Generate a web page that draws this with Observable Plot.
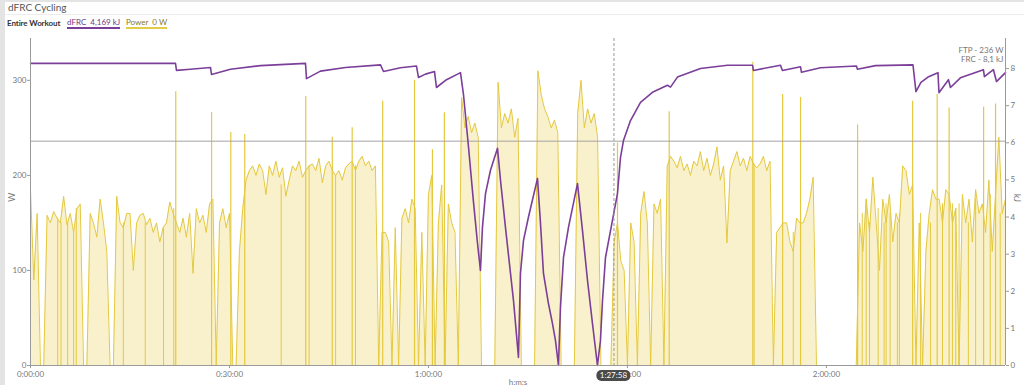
<!DOCTYPE html>
<html><head><meta charset="utf-8">
<script src="https://cdn.jsdelivr.net/npm/d3@7"></script>
<script src="https://cdn.jsdelivr.net/npm/@observablehq/plot@0.6"></script>
<style>
html,body{margin:0;padding:0;background:#fff;width:1024px;height:385px;overflow:hidden;font-family:Lato,sans-serif;}
#wrap{position:relative;width:1024px;height:385px;}
#lstrip{position:absolute;left:0;top:0;width:5px;height:385px;background:#e4e4e4;z-index:3;}
#tstrip{position:absolute;left:0;top:0;width:1024px;height:2px;background:#e4e4e4;z-index:3;}
#title{position:absolute;left:8px;top:1px;font-size:10px;color:#555;line-height:13px;}
#sep{position:absolute;left:5px;top:14px;width:1019px;height:1px;background:#ececec;}
#legend{position:absolute;left:7px;top:18px;font-size:8px;line-height:11px;height:11px;white-space:nowrap;}
#legend span{position:absolute;top:0;}
#lg0{left:0;font-weight:bold;color:#333;letter-spacing:-0.1px;}
#lg1{left:60px;color:#6d3a86;border-bottom:2px solid #7b3f99;line-height:9px;}
#lg2{left:119px;color:#8c7a22;border-bottom:2px solid #e2cb45;line-height:9px;}
#chart{position:absolute;left:0;top:30px;}
#cursor{position:absolute;height:11px;line-height:11px;font-size:8px;color:#fff;background:#4a4a4a;border-radius:5px;padding:0 3px;transform:translateX(-50%);z-index:2;}
</style></head>
<body><div id="wrap">
<div id="lstrip"></div><div id="tstrip"></div>
<div id="title">dFRC Cycling</div>
<div id="sep"></div>
<div id="legend"><span id="lg0">Entire Workout</span><span id="lg1">dFRC&nbsp; 4,169 kJ</span><span id="lg2">Power&nbsp; 0 W</span></div>
<div id="chart"></div>
<div id="cursor">1:27:58</div>
</div>
<script>
// Power level samples (W), one every 0.5 minute from 0:00:00
const powerStepMin = 0.5;
const powerW = [
185,90,160,0,0,158,150,162,155,150,
178,148,160,140,165,170,0,0,160,150,
135,175,150,120,0,0,178,150,145,160,
160,100,150,158,160,148,155,140,150,130,
145,150,172,160,150,140,155,135,160,97,
165,150,158,140,170,175,0,150,165,145,
160,0,0,120,165,195,205,210,200,212,
205,180,210,200,215,198,208,178,195,210,
205,215,198,205,210,212,205,218,192,210,
215,205,200,205,195,208,212,215,205,215,
220,210,215,205,210,0,140,140,130,0,
145,0,155,165,150,175,165,0,140,0,
180,200,0,150,190,0,170,150,140,0,
282,250,262,245,255,240,0,0,0,0,
0,298,250,265,255,270,240,260,0,0,
0,0,0,310,285,270,262,250,258,245,
0,0,0,0,0,265,300,250,270,255,
265,240,0,0,0,0,130,150,110,100,
0,150,130,0,160,183,150,0,170,160,
175,0,210,220,215,208,220,205,212,200,
215,210,225,205,218,200,212,230,195,210,
129,205,215,225,210,218,205,220,212,208,
212,220,205,215,0,140,145,150,150,130,
120,155,150,150,160,175,198,0,0,0,
0,0,0,0,0,0,0,0,0,0,
150,120,175,140,198,150,100,175,150,180,
130,160,150,210,205,180,190,0,150,0,
120,160,185,175,175,150,185,180,150,165,
0,180,150,175,130,185,160,170,140,195,
120,180,240,160,175
];
// Momentary drops to 0 W: time (min) and the level they drop from (W)
const dropTimeMin = [4.1,4.6,5.6,6.5,6.9,14.0,17.3,20.05,21.6,37.8,42.0,46.0,49.0,109.1,115.0,125.4,126.0,126.5,127.8,128.7,129.0,129.6,130.7,131.0,134.2,135.7,137.5,139.0,139.5,140.0,141.4,142.5,144.7,146.2];
const dropFromW = [155,150,150,140,165,150,150,145,165,190,210,200,210,212,140,160,175,150,165,150,170,160,150,160,160,150,170,170,165,170,150,175,180,160];
// Momentary spikes: time (min) and peak (W)
const spikeTimeMin = [21.9,27.3,30.2,32.3,41.5,45.5,48.5,53.1,57.9,60.6,62.4,88.5,96.3,108.9,113.4,116.1,124.7,133.0,136.7,138.5,143.7,145.5];
const spikeW = [288,266,245,243,283,240,250,278,300,227,266,234,267,319,285,282,253,278,285,271,272,275];
// dFRC (kJ) at given times (minutes)
const frcTimeMin = [0,21.86,22.01,24.12,27.14,27.29,30.15,34.68,41.46,41.61,43.72,47.49,52.77,53.22,55.78,58.19,58.49,59.55,60.91,61.21,62.72,64.83,65.28,66.03,66.79,67.39,67.84,68.14,68.6,69.35,70.41,70.86,71.61,72.37,72.82,73.57,73.87,74.33,75.08,76.44,76.89,77.34,78.09,78.7,79.15,79.6,79.9,80.36,81.11,82.47,83.22,83.98,84.73,85.48,85.93,86.24,86.69,87.74,88.5,88.95,89.4,90.46,91.97,93.77,96.03,96.49,97.54,101.01,105.08,108.85,109.0,113.07,113.37,116.09,116.24,119.1,124.53,124.68,127.39,133.05,133.5,134.25,135.31,136.82,136.97,138.4,138.7,140.2,143.67,143.82,145.18,145.64,147];
const frcKJ = [8.14,8.14,7.95,7.98,8.03,7.84,7.98,8.08,8.14,7.73,7.93,8.03,8.1,7.92,8.02,8.07,7.76,7.85,7.92,7.49,7.7,7.89,7.3,5.9,4.4,3.3,2.56,3.72,4.63,5.26,5.85,4.99,3.72,2.48,1.75,0.22,2.48,3.37,4.0,5.04,3.83,2.48,1.67,1.13,0.67,0,1.56,2.91,3.72,4.9,3.64,2.29,1.13,0,0.67,1.75,2.91,3.91,4.64,5.6,6.06,6.6,7.09,7.36,7.55,7.5,7.77,8.0,8.09,8.09,7.95,8.09,7.95,8.05,7.9,8.02,8.07,7.98,8.08,8.1,7.38,7.63,7.77,7.89,7.35,7.7,7.49,7.75,7.97,7.78,7.97,7.65,7.89];
const xTicksMin = [0,30,60,90,120];
const wTicks = [0,100,200,300];
const kjTicks = [0,1,2,3,4,5,6,7,8];
const ftpW = 236;
const cursorMin = 87 + 58/60;
const xMaxMin = 147;
const wMax = 344;
const kjMax = 8.81;

const K = wMax / kjMax;
const power = powerW.map((w, i) => ({t: i * powerStepMin, w}));
const drops = dropTimeMin.map((t, i) => ({t, w: dropFromW[i]}));
const spikes = spikeTimeMin.map((t, i) => ({t, w: spikeW[i]}));
const frc = frcTimeMin.map((t, i) => ({t, w: frcKJ[i] * K}));
const fmt = m => `${Math.floor(m/60)}:${String(m%60).padStart(2,"0")}:00`;

const axisCol = "#9a9a9a", textCol = "#777", pLine = "#e4c93f", pFill = "#f9f1cb";
const plot = Plot.plot({
  width: 1024, height: 355,
  marginTop: 8, marginBottom: 20, marginLeft: 30, marginRight: 19,
  style: {background: "transparent", fontFamily: "Lato, sans-serif", fontSize: "8px", color: textCol, overflow: "visible"},
  x: {domain: [0, xMaxMin]},
  y: {domain: [0, wMax]},
  marks: [
    Plot.areaY(power, {x: "t", y: "w", fill: pFill}),
    Plot.lineY(power, {x: "t", y: "w", stroke: pLine, strokeWidth: 1}),
    Plot.ruleX(drops, {x: "t", y1: 0, y2: "w", stroke: pLine, strokeWidth: 1}),
    Plot.ruleX(spikes, {x: "t", y1: 0, y2: "w", stroke: pLine, strokeWidth: 1.2}),
    Plot.ruleY([ftpW], {stroke: "#a3a3a3", strokeWidth: 1}),
    Plot.line(frc, {x: "t", y: "w", stroke: "#7b3f99", strokeWidth: 1.6}),
    Plot.ruleY([0], {stroke: axisCol}),
    Plot.ruleX([0], {stroke: axisCol}),
    Plot.ruleX([xMaxMin], {stroke: axisCol}),
    Plot.ruleX([cursorMin], {stroke: "#9a9a9a", strokeDasharray: "3,2"}),
    Plot.axisX({ticks: xTicksMin, tickFormat: fmt, tickSize: 3, tickPadding: 3, label: null, stroke: axisCol, fill: textCol}),
    Plot.axisY({anchor: "left", ticks: wTicks, tickSize: 3, tickPadding: 1, label: null, stroke: axisCol, fill: textCol}),
    Plot.axisY(kjTicks.map(v => v * K), {anchor: "right", tickFormat: d => String(Math.round(d / K)), tickSize: 3, tickPadding: 2, label: null, stroke: axisCol, fill: textCol}),
    Plot.text(["W"], {frameAnchor: "left", dx: -18, rotate: -90, fill: textCol, fontSize: 9}),
    Plot.text(["kJ"], {frameAnchor: "right", dx: 11, rotate: 90, fill: textCol, fontSize: 9}),
    Plot.text(["h:m:s"], {frameAnchor: "bottom", dy: 19, fill: textCol, fontSize: 8}),
    Plot.text([`FTP - ${ftpW} W`], {frameAnchor: "top-right", dx: -2, dy: 9, textAnchor: "end", fill: textCol, fontSize: 8}),
    Plot.text(["FRC - 8,1 kJ"], {frameAnchor: "top-right", dx: -2, dy: 18, textAnchor: "end", fill: textCol, fontSize: 8})
  ]
});
document.getElementById("chart").appendChild(plot);
const cx = plot.scale("x").apply(cursorMin);
const cur = document.getElementById("cursor");
cur.style.left = cx + "px";
cur.style.top = (30 + 355 - 20 + 5) + "px";
</script>
</body></html>
